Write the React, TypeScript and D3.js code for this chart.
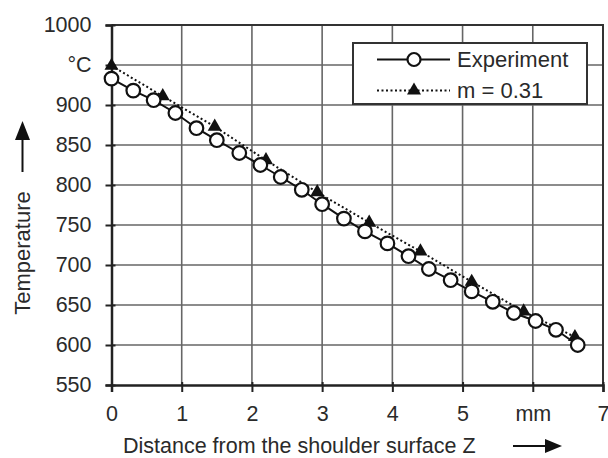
import { useEffect, useRef } from "react";
import * as d3 from "d3";

// experiment (circles)
const expZ = [0, 0.31, 0.6, 0.91, 1.21, 1.5, 1.82, 2.12, 2.41, 2.71, 3.0, 3.31, 3.61, 3.93, 4.23, 4.52, 4.83, 5.13, 5.43, 5.73, 6.04, 6.33, 6.64];
const expT = [933, 918, 906, 890, 871, 856, 840, 825, 810, 794, 776, 758, 742, 727, 711, 695, 681, 667, 654, 640, 630, 619, 600];

// model m = 0.31 (triangles)
const modZ = [0, 0.73, 1.47, 2.2, 2.93, 3.67, 4.4, 5.13, 5.87, 6.6];
const modT = [949, 911, 873, 831, 791, 753, 717, 679, 642, 610];

const xTicks = [0, 1, 2, 3, 4, 5, 6, 7];
const xTickLabels = ["0", "1", "2", "3", "4", "5", "mm", "7"];
const yTicks = [550, 600, 650, 700, 750, 800, 850, 900, 950, 1000];
const yTickLabels = ["550", "600", "650", "700", "750", "800", "850", "900", "°C", "1000"];

const legendLabels = ["Experiment", "m = 0.31"];

const FONT = "'Liberation Sans', Arial, sans-serif";

const App = () => {
  const ref = useRef<SVGSVGElement | null>(null);

  useEffect(() => {
    const width = 608;
    const height = 458;
    const margin = { top: 25, right: 5, bottom: 73, left: 111.5 };
    const w = width - margin.left - margin.right;
    const h = height - margin.top - margin.bottom;

    const root = d3.select(ref.current);
    root.selectAll("*").remove();

    const svg = root.append("g").attr("transform", `translate(${margin.left},${margin.top})`);

    const x = d3.scaleLinear().domain([0, 7]).range([0, w]);
    const y = d3.scaleLinear().domain([550, 1000]).range([h, 0]);

    // grid
    svg.append("g")
      .selectAll("line")
      .data(xTicks.slice(1, -1))
      .join("line")
      .attr("x1", d => x(d)).attr("x2", d => x(d))
      .attr("y1", 0).attr("y2", h)
      .attr("stroke", "#666").attr("stroke-width", 1.6);
    svg.append("g")
      .selectAll("line")
      .data(yTicks.slice(1, -1))
      .join("line")
      .attr("x1", 0).attr("x2", w)
      .attr("y1", d => y(d)).attr("y2", d => y(d))
      .attr("stroke", "#666").attr("stroke-width", 1.6);

    // frame top/right
    svg.append("path")
      .attr("d", `M0,0H${w}V${h}`)
      .attr("fill", "none")
      .attr("stroke", "#333").attr("stroke-width", 2);

    // axes
    const xAxis = svg.append("g")
      .attr("transform", `translate(0,${h})`)
      .call(d3.axisBottom(x).tickValues(xTicks).tickSize(7).tickPadding(13.5)
        .tickFormat((d, i) => xTickLabels[i]));
    const yAxis = svg.append("g")
      .call(d3.axisLeft(y).tickValues(yTicks).tickSize(6).tickPadding(14)
        .tickFormat((d, i) => yTickLabels[i]));

    [xAxis, yAxis].forEach(a => {
      a.select(".domain").attr("stroke", "#222").attr("stroke-width", 2.5);
      a.selectAll(".tick line").attr("stroke", "#222").attr("stroke-width", 2);
      a.selectAll(".tick text")
        .attr("font-family", FONT).attr("font-size", 21.5).attr("fill", "#2a2a2a");
    });
    // ticks cross the axes a little
    xAxis.selectAll(".tick line").attr("y1", -3);
    yAxis.selectAll(".tick line").attr("x1", 4);

    const modData = modZ.map((z, i) => ({ z, t: modT[i] }));
    const expData = expZ.map((z, i) => ({ z, t: expT[i] }));

    const line = d3.line<{ z: number; t: number }>()
      .x(d => x(d.z))
      .y(d => y(d.t));

    // model line (dotted with triangles)
    svg.append("path")
      .datum(modData)
      .attr("fill", "none")
      .attr("stroke", "#111").attr("stroke-width", 2)
      .attr("stroke-dasharray", "2,2.5")
      .attr("d", line);

    const tri = d3.symbol().type(d3.symbolTriangle).size(85);

    svg.append("path")
      .datum(expData)
      .attr("fill", "none")
      .attr("stroke", "#111").attr("stroke-width", 2)
      .attr("d", line);

    svg.append("g")
      .selectAll("path")
      .data(modData)
      .join("path")
      .attr("transform", d => `translate(${x(d.z)},${y(d.t)})`)
      .attr("d", tri)
      .attr("fill", "#111");

    svg.append("g")
      .selectAll("circle")
      .data(expData)
      .join("circle")
      .attr("cx", d => x(d.z))
      .attr("cy", d => y(d.t))
      .attr("r", 6.8)
      .attr("fill", "#fff")
      .attr("stroke", "#111").attr("stroke-width", 2.2);

    // legend
    const lg = root.append("g").attr("transform", "translate(353,43)");
    lg.append("rect")
      .attr("width", 234).attr("height", 61)
      .attr("fill", "#fff").attr("stroke", "#333").attr("stroke-width", 2);
    const rows = [16.5, 47.5];
    lg.append("line")
      .attr("x1", 24).attr("x2", 97).attr("y1", rows[0]).attr("y2", rows[0])
      .attr("stroke", "#111").attr("stroke-width", 2);
    lg.append("circle")
      .attr("cx", 61).attr("cy", rows[0]).attr("r", 6.5)
      .attr("fill", "#fff").attr("stroke", "#111").attr("stroke-width", 2.2);
    lg.append("line")
      .attr("x1", 24).attr("x2", 97).attr("y1", rows[1]).attr("y2", rows[1])
      .attr("stroke", "#111").attr("stroke-width", 2).attr("stroke-dasharray", "2,2.5");
    lg.append("path")
      .attr("transform", `translate(61,${rows[1]})`)
      .attr("d", tri)
      .attr("fill", "#111");
    lg.selectAll("text")
      .data(legendLabels)
      .join("text")
      .attr("x", 104)
      .attr("y", (d, i) => rows[i])
      .attr("dy", "0.35em")
      .attr("font-family", FONT).attr("font-size", 22).attr("fill", "#2a2a2a")
      .text(d => d);

    // axis titles with arrows
    root.append("text")
      .attr("x", 123).attr("y", 445)
      .attr("dy", "0.35em")
      .attr("font-family", FONT).attr("font-size", 21.5).attr("fill", "#2a2a2a")
      .text("Distance from the shoulder surface Z");
    root.append("line")
      .attr("x1", 513).attr("x2", 548).attr("y1", 446).attr("y2", 446)
      .attr("stroke", "#111").attr("stroke-width", 2);
    root.append("path")
      .attr("d", "M562,446L545,439L545,453Z")
      .attr("fill", "#111");

    root.append("text")
      .attr("transform", "translate(22,253) rotate(-90)")
      .attr("text-anchor", "middle")
      .attr("dy", "0.35em")
      .attr("font-family", FONT).attr("font-size", 22).attr("fill", "#2a2a2a")
      .text("Temperature");
    root.append("line")
      .attr("x1", 22.5).attr("x2", 22.5).attr("y1", 172).attr("y2", 137)
      .attr("stroke", "#111").attr("stroke-width", 2);
    root.append("path")
      .attr("d", "M22.5,121L15,140L30,140Z")
      .attr("fill", "#111");
  }, []);

  return (
    <svg ref={ref} width={608} height={458}
      style={{ position: "absolute", left: 0, top: 0, background: "#fff" }} />
  );
};

export default App;
